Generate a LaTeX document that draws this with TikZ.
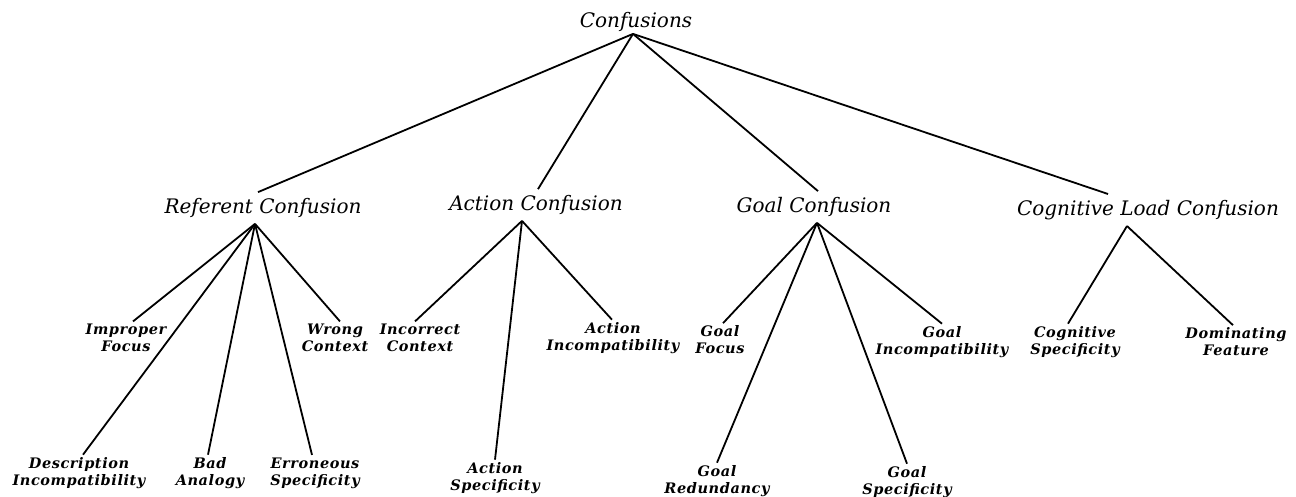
\documentclass[tikz,border=0pt]{standalone}
\usepackage{fontspec}
\setmainfont{DejaVu Serif}
\newfontfamily\headfont{DejaVu Serif}
\newfontfamily\leaffamily{DejaVu Serif}[LetterSpace=4]
\begin{document}
\begin{tikzpicture}[x=1pt,y=-1pt,
  head/.style={font=\headfont\fontsize{20}{22}\selectfont\itshape, inner xsep=0pt, inner ysep=6pt},
  leaf/.style={font=\leaffamily\fontsize{14.5}{17}\selectfont\bfseries\itshape, align=center, inner xsep=0pt, inner ysep=2.5pt},
  link/.style={line width=1.8pt}]
\useasboundingbox (0,0) rectangle (1296,496);

% root and the four kinds of confusion
\node[head, inner ysep=2pt] (root) at (636,22) {Confusions};
\node[head] (ref)  at (263,208) {Referent Confusion};
\node[head] (act)  at (536,205) {Action Confusion};
\node[head] (goal) at (814,207) {Goal Confusion};
\node[head] (cog)  at (1148,210) {Cognitive Load Confusion};

% referent confusion subtypes
\node[leaf] (imp)  at (126,338) {Improper\\Focus};
\node[leaf] (wctx) at (335,338) {Wrong\\Context};
\node[leaf] (desc) at (79,473)  {Description\\Incompatibility};
\node[leaf] (bad)  at (210,473) {Bad\\Analogy};
\node[leaf] (err)  at (315,473) {Erroneous\\Specificity};

% action confusion subtypes
\node[leaf] (ictx)  at (420,338) {Incorrect\\Context};
\node[leaf] (aspec) at (495,478) {Action\\Specificity};
\node[leaf] (ainc)  at (613,338) {Action\\Incompatibility};

% goal confusion subtypes
\node[leaf] (gfoc)  at (720,340) {Goal\\Focus};
\node[leaf] (gred)  at (717,481) {Goal\\Redundancy};
\node[leaf] (gspec) at (907,482) {Goal\\Specificity};
\node[leaf] (ginc)  at (942,342) {Goal\\Incompatibility};

% cognitive load confusion subtypes
\node[leaf] (cspec) at (1075,342) {Cognitive\\Specificity};
\node[leaf] (dom)   at (1236,342) {Dominating\\Feature};

% tree links
\draw[link] ([xshift=-3pt]root.south) -- ([xshift=-5pt]ref.north);
\draw[link] ([xshift=-3pt]root.south) -- ([xshift=2pt]act.north);
\draw[link] ([xshift=-3pt]root.south) -- ([xshift=4pt]goal.north);
\draw[link] ([xshift=-3pt]root.south) -- ([xshift=-40pt]cog.north);

\foreach \c/\s in {imp/7, desc/4, bad/-2, err/-3, wctx/5}
  \draw[link] ([xshift=-8pt]ref.south) -- ([xshift=\s pt]\c.north);
\foreach \c/\s in {ictx/-5, aspec/0, ainc/-1}
  \draw[link] ([xshift=-14pt]act.south) -- ([xshift=\s pt]\c.north);
\foreach \c/\s in {gfoc/3, gred/0, gspec/0, ginc/0}
  \draw[link] ([xshift=3pt]goal.south) -- ([xshift=\s pt]\c.north);
\foreach \c/\s in {cspec/-7, dom/-3}
  \draw[link] ([xshift=-21pt]cog.south) -- ([xshift=\s pt]\c.north);
\end{tikzpicture}
\end{document}
